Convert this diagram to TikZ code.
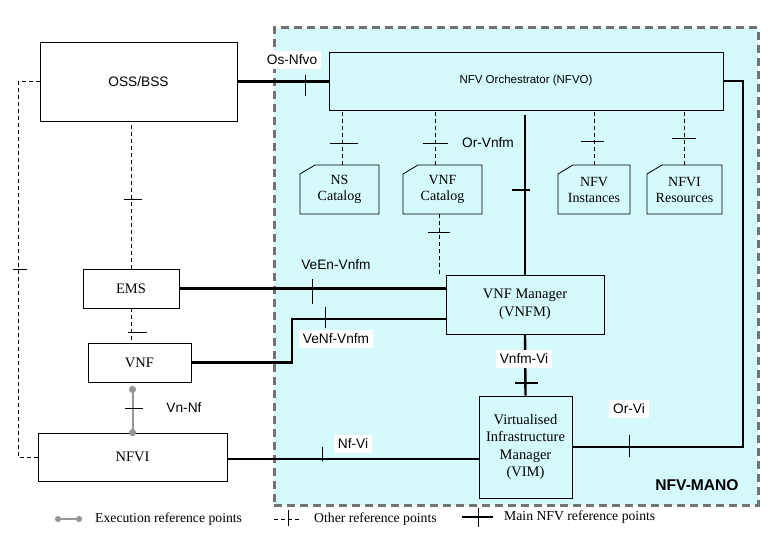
\documentclass[tikz,border=0pt]{standalone}
\usepackage{fontspec}
\setmainfont{Liberation Serif}
\setsansfont{Liberation Sans}
\usetikzlibrary{positioning,arrows.meta}

\definecolor{manocyan}{RGB}{212,250,252}
\definecolor{manogray}{RGB}{115,115,115}
\definecolor{execgray}{RGB}{150,150,150}

\begin{document}
\begin{tikzpicture}[x=1pt, y=-1pt,
        box/.style={rectangle, draw, line width=0.8pt, fill=white, inner sep=0pt, align=center, font=\fontsize{14.5}{17.5}\selectfont},
        manobox/.style={box, fill=manocyan},
        catalog/.style={inner sep=0pt, align=center, minimum height=49pt, font=\fontsize{14}{16}\selectfont},
        catline/.style={draw, line width=0.8pt, fill=manocyan},
        manoframe/.style={rectangle, draw=manogray, fill=manocyan, line width=3pt, dash pattern=on 8pt off 5pt},
        mainref/.style={line width=2.4pt},
        otherref/.style={line width=1pt, dash pattern=on 4pt off 3pt},
        execref/.style={line width=2pt, execgray, {Circle[length=7pt]}-{Circle[length=7pt]}},
        tickline/.style={line width=0.9pt},
        maintick/.style={line width=1.4pt},
        label/.style={font=\sffamily\fontsize{13.7}{16}\selectfont, inner sep=4pt},
        wlabel/.style={label, fill=white},
        legend/.style={font=\fontsize{13.7}{16}\selectfont, inner sep=0pt, anchor=west}
    ]
    \useasboundingbox (0,0) rectangle (783,534);

    % NFV-MANO area
    \node[manoframe, minimum width=484pt, minimum height=477pt] (mano) at (516,266.5) {};
    \node[font=\sffamily\bfseries\fontsize{15.6}{18}\selectfont] (manolabel) at (697,485) {NFV-MANO};

    % Blocks
    \node[box, minimum width=197pt, minimum height=79pt, font=\sffamily\fontsize{13.7}{16}\selectfont] (oss) at (138.5,81.5) {OSS/BSS};
    \node[manobox, minimum width=394pt, minimum height=58pt, font=\sffamily\fontsize{11.5}{14}\selectfont] (nfvo) at (526,81) {NFV Orchestrator (NFVO)};
    \node[box, minimum width=96pt, minimum height=39pt] (ems) at (131,288.5) {EMS};
    \node[box, minimum width=103pt, minimum height=39pt] (vnf) at (139.5,362.5) {VNF};
    \node[box, minimum width=189pt, minimum height=48pt] (nfvi) at (132.5,457) {NFVI};
    \node[manobox, minimum width=158pt, minimum height=59pt] (vnfm) at (525,304.5) {VNF Manager\\(VNFM)};
    \node[manobox, minimum width=93pt, minimum height=102pt] (vim) at (525.5,447) {Virtualised\\Infrastructure\\Manager\\(VIM)};

    % Catalogs
    \foreach \n/\x/\w in {nscat/339.5/79, vnfcat/442.5/79, nfvinst/594/72, nfvires/684.5/75}
        \draw[catline] (\x-\w/2,174) -- (\x-\w/2+15,165) -- (\x+\w/2,165) -- (\x+\w/2,214) -- (\x-\w/2,214) -- cycle;
    \node[catalog, minimum width=79pt] (nscat) at (339.5,189.5) {NS\\Catalog};
    \node[catalog, minimum width=79pt] (vnfcat) at (442.5,189.5) {VNF\\Catalog};
    \node[catalog, minimum width=72pt] (nfvinst) at (594,189.5) {NFV\\Instances};
    \node[catalog, minimum width=75pt] (nfvires) at (684.5,189.5) {NFVI\\Resources};

    % Main reference points
    \coordinate (orvibend) at (743,447);
    \coordinate (venfbend) at (292,319);
    \draw[mainref] (oss.east) -- (oss.east -| nfvo.west);
    \draw[mainref] (nfvo.east) -| (orvibend) -- (vim.east);
    \draw[mainref, shorten >=5pt] (vnfm.north) -- (vnfm.north |- nfvo.south);
    \draw[mainref] (vnfm.south) -- (vim.north);
    \draw[mainref] (ems.east) -- (ems.east -| vnfm.west);
    \draw[mainref] (vnf.east) -| (venfbend) -- (venfbend -| vnfm.west);
    \draw[mainref] ([yshift=-2pt]nfvi.east) -- ([yshift=-2pt]nfvi.east -| vim.west);

    % Other reference points
    \coordinate (lftbend) at (18,457);
    \draw[otherref] (oss.west) -| (lftbend) -- (nfvi.west);
    \draw[otherref] (ems.north) -- (ems.north |- oss.south);
    \draw[otherref] (ems.south) -- (ems.south |- vnf.north);
    \draw[otherref] ([xshift=2.5pt]nscat.north) -- ([xshift=2.5pt]nscat.north |- nfvo.south);
    \draw[otherref] ([xshift=-7.5pt]vnfcat.north) -- ([xshift=-7.5pt]vnfcat.north |- nfvo.south);
    \draw[otherref] ([xshift=-3.5pt]vnfcat.south) -- ([xshift=-3.5pt]vnfcat.south |- vnfm.north);
    \draw[otherref] (nfvinst.north) -- (nfvinst.north |- nfvo.south);
    \draw[otherref] (nfvires.north) -- (nfvires.north |- nfvo.south);

    % Execution reference point
    \draw[execref, shorten <=-3.5pt, shorten >=3.5pt] (nfvi.north) -- (nfvi.north |- vnf.south);

    % Ticks
    \foreach \x/\ya/\yb in {305/75/96, 312/279/304, 325/307/328, 322/447/461, 629/435/457}
        \draw[tickline] (\x,\ya) -- (\x,\yb);
    \foreach \y/\xa/\xb in {190/512/530, 383/515/538}
        \draw[maintick] (\xa,\y) -- (\xb,\y);
    \foreach \y/\xa/\xb in {143/330/358, 143/423/448, 232/428/450, 141/581/604, 138/672/696, 199/124/142, 332/128/147, 408/125/143, 269/13/27}
        \draw[tickline] (\xa,\y) -- (\xb,\y);

    % Labels
    \node[wlabel] (osnfvo) at (292,60) {Os-Nfvo};
    \node[label] (orvnfm) at (488,143) {Or-Vnfm};
    \node[label] (veenvnfm) at (336,265) {VeEn-Vnfm};
    \node[wlabel] (venfvnfm) at (336,339) {VeNf-Vnfm};
    \node[label] (vnnf) at (184,408) {Vn-Nf};
    \node[wlabel] (nfvi-lbl) at (353,444) {Nf-Vi};
    \node[wlabel] (vnfmvi) at (524,359) {Vnfm-Vi};
    \node[wlabel] (orvi) at (629,409) {Or-Vi};

    % Legend
    \coordinate (lgexecA) at (55,519);
    \coordinate (lgexecB) at (82,519);
    \coordinate (lgotherA) at (274,519);
    \coordinate (lgotherB) at (302,519);
    \coordinate (lgmainA) at (462,517);
    \coordinate (lgmainB) at (493,517);
    \draw[execref, line width=1.6pt, {Circle[length=6pt]}-{Circle[length=6pt]}] (lgexecA) -- (lgexecB);
    \draw[otherref, line width=0.8pt] (lgotherA) -- (lgotherB);
    \draw[tickline] (288,510) -- (288,526);
    \draw[mainref] (lgmainA) -- (lgmainB);
    \draw[tickline] (478,508) -- (478,527);
    \node[legend, right=13pt of lgexecB] (lgexec) {Execution reference points};
    \node[legend, right=12pt of lgotherB] (lgother) {Other reference points};
    \node[legend, right=11pt of lgmainB] (lgmain) {Main NFV reference points};

\end{tikzpicture}
\end{document}
